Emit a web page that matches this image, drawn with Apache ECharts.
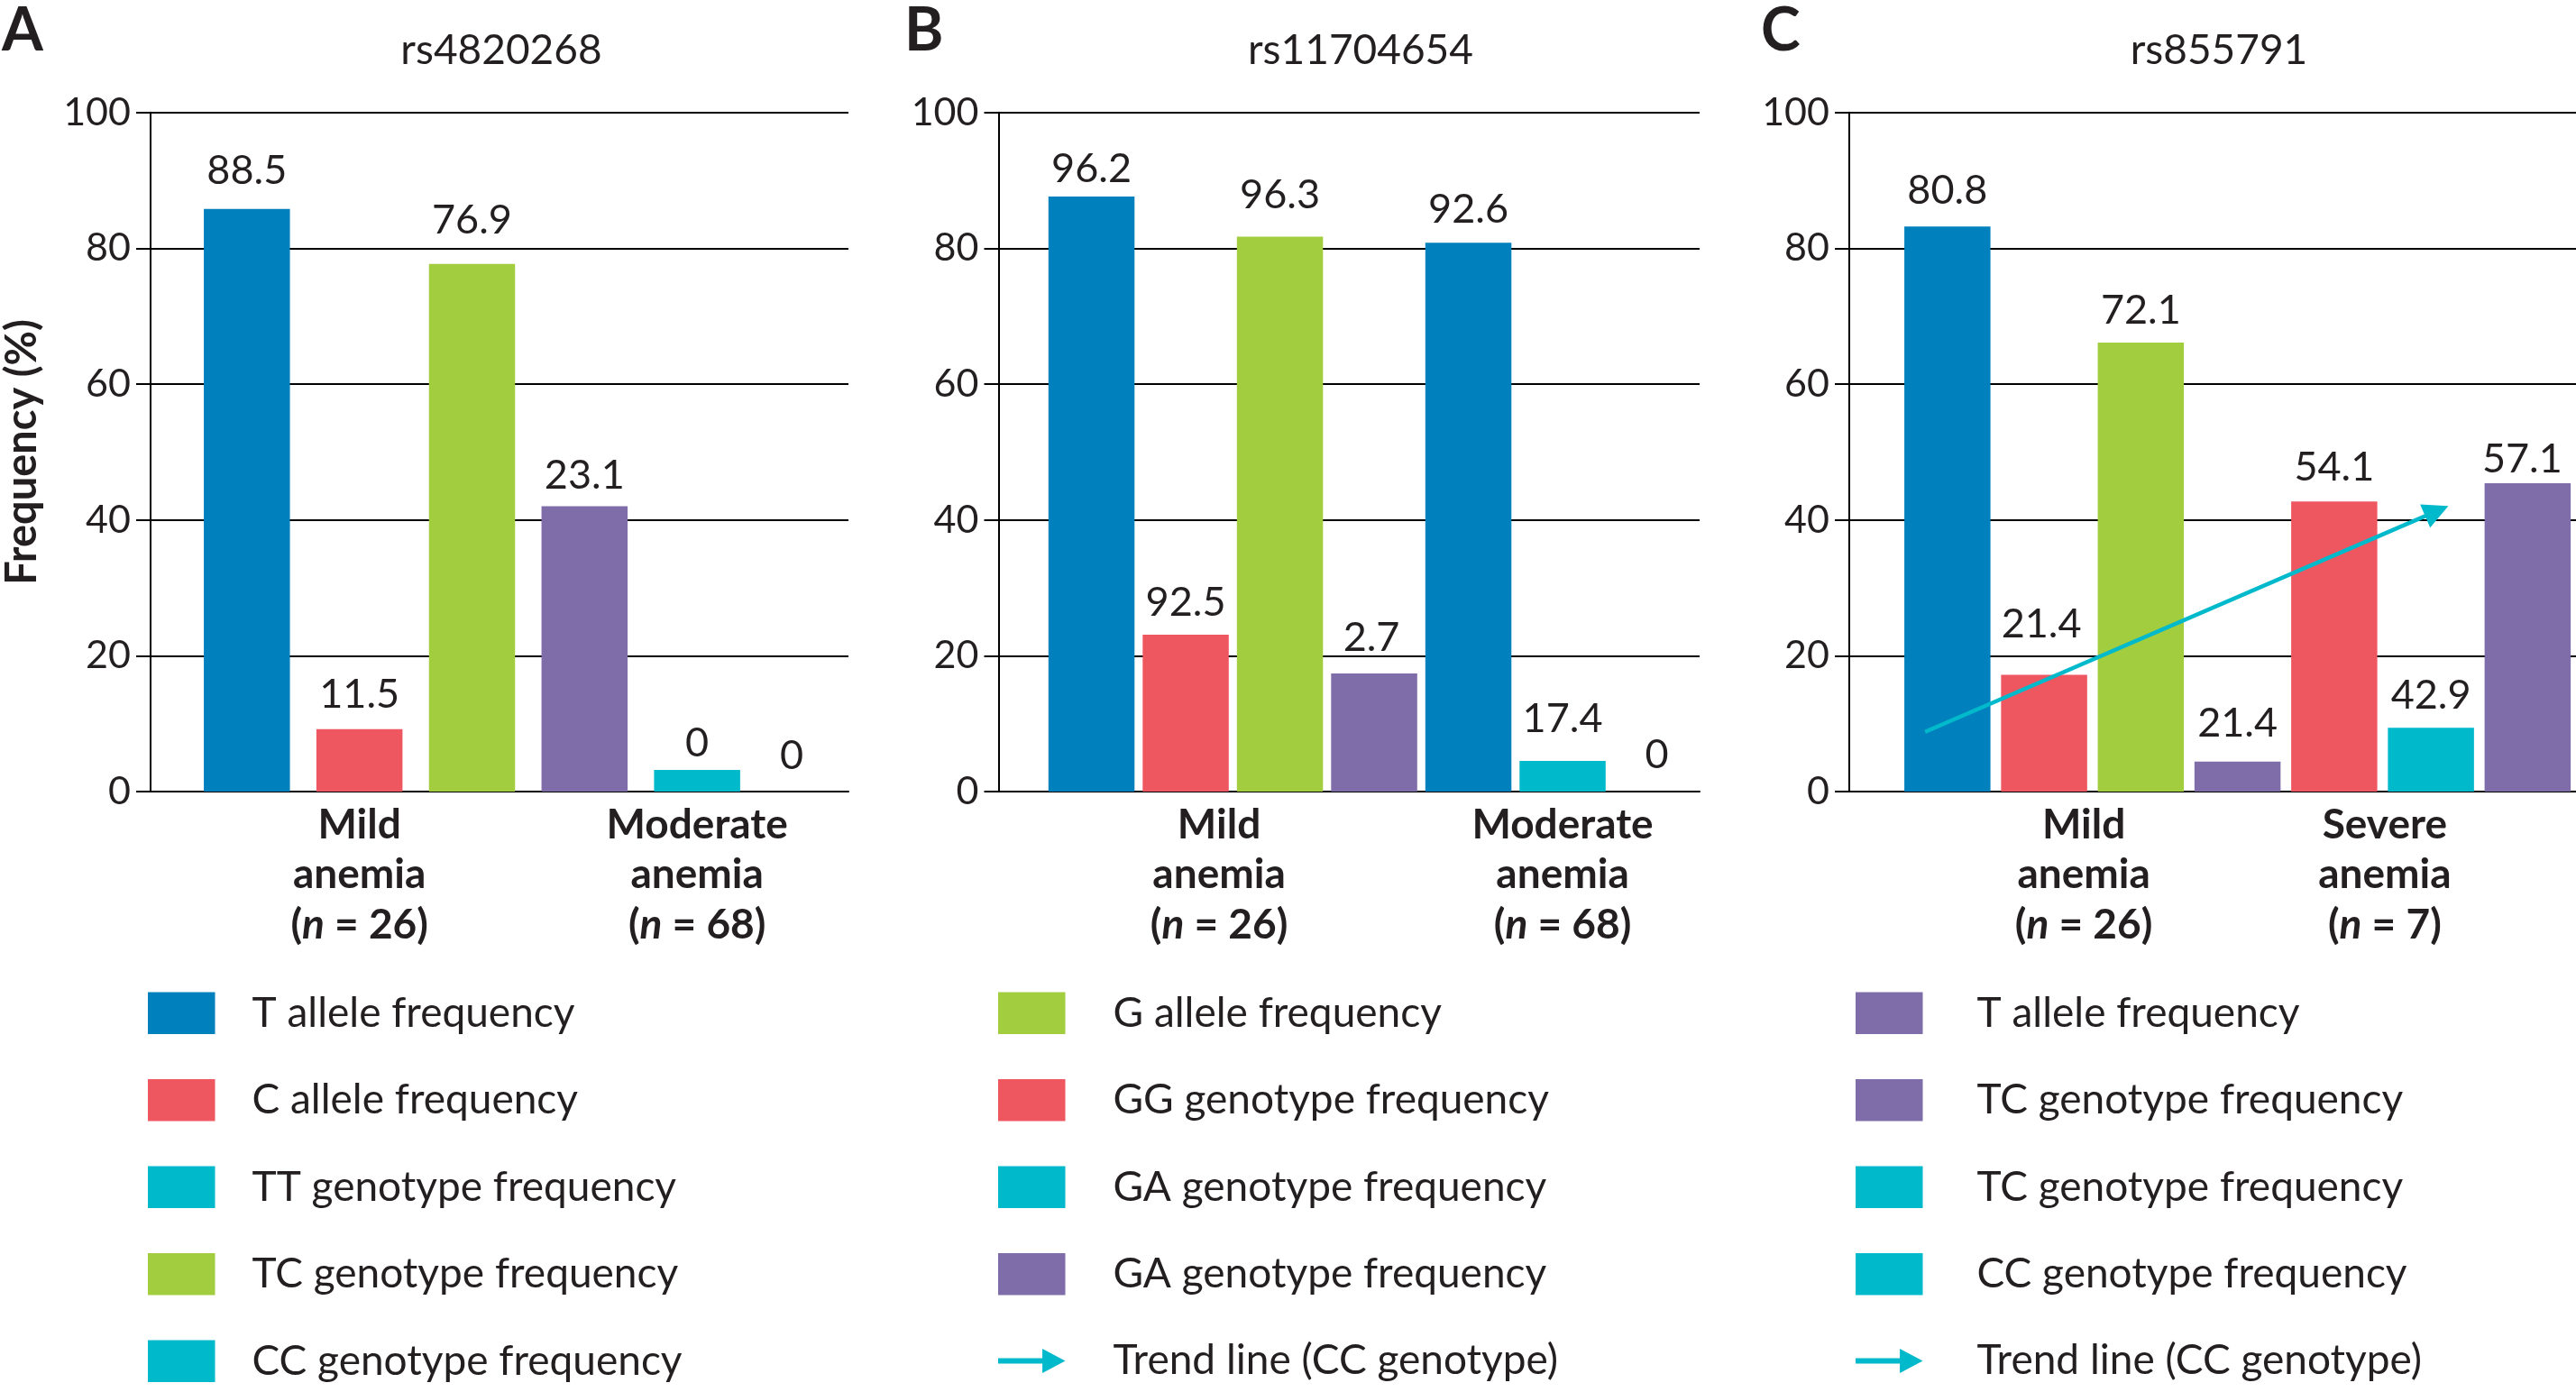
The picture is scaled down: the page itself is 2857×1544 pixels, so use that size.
<!DOCTYPE html>
<html>
<head>
<meta charset="utf-8">
<title>Anemia genotype frequencies</title>
<script src="https://cdn.jsdelivr.net/npm/echarts@6/dist/echarts.min.js"></script>
<style>
  body { margin: 0; background: #fff; }
  #main { width: 2857px; height: 1544px; }
</style>
</head>
<body>
<div id="main"></div>
<script>
// snp titles + panel letters
var snps = ['rs4820268', 'rs11704654', 'rs855791'];
var letters = ['A', 'B', 'C'];

// bar heights as drawn (%), and the numbers printed above them
var heightsA = [85.8, 9.2, 77.7, 42.0, 3.2, 0];
var labelsA = ['88.5', '11.5', '76.9', '23.1', '0', '0'];
var heightsB = [87.6, 23.1, 81.7, 17.4, 80.8, 4.5, 0];
var labelsB = ['96.2', '92.5', '96.3', '2.7', '92.6', '17.4', '0'];
var heightsC = [83.2, 17.2, 66.1, 4.4, 42.7, 9.4, 45.4];
var labelsC = ['80.8', '21.4', '72.1', '21.4', '54.1', '42.9', '57.1'];

// group labels under the bars ('' = no label)
var groupsA = ['', 'Mild anemia (n = 26)', '', '', 'Moderate anemia (n = 68)', ''];
var groupsB = ['', 'Mild anemia (n = 26)', '', '', '', 'Moderate anemia (n = 68)', ''];
var groupsC = ['', 'Mild anemia (n = 26)', '', '', 'Severe anemia (n = 7)', '', ''];

// legends
var legendA = ['T allele frequency', 'C allele frequency', 'TT genotype frequency', 'TC genotype frequency', 'CC genotype frequency'];
var legendB = ['G allele frequency', 'GG genotype frequency', 'GA genotype frequency', 'GA genotype frequency', 'Trend line (CC genotype)'];
var legendC = ['T allele frequency', 'TC genotype frequency', 'TC genotype frequency', 'CC genotype frequency', 'Trend line (CC genotype)'];

// trend line of panel C, [slot position, %]
var trendStart = [0.27, 8.8];
var trendEnd = [5.56, 41.3];

var yTicks = [0, 20, 40, 60, 80, 100];

var pal = { blue: '#0080bd', red: '#ef5760', green: '#a2cd3f', purple: '#7f6daa', cyan: '#00b9cb' };
var INK = '#231f20';
var FONT = 'Lato';

var panels = [
    { heights: heightsA, labels: labelsA, groups: groupsA, legend: legendA,
      colors: ['blue', 'red', 'green', 'purple', 'cyan', 'cyan'],
      legendColors: ['blue', 'red', 'cyan', 'green', 'cyan'],
      lift: [8, 4, 14, 0, -5, 5], nudge: [0, 0, 0, 0, 0, -20],
      axis: 163.5, width: 777.5, barLeft: 211.4, barSpan: 749, title: 556, letter: 2,
      legendLeft: 164, textGap: 36, shift: [0, 0, 0, 0, 0, 0] },
    { heights: heightsB, labels: labelsB, groups: groupsB, legend: legendB,
      colors: ['blue', 'red', 'green', 'purple', 'blue', 'cyan', 'cyan'],
      legendColors: ['green', 'red', 'cyan', 'purple', 'arrow'],
      lift: [-4, 1, 12, 5, 2, 12, 6], nudge: [0, 0, 0, -3, 0, 0, 0],
      axis: 1107.5, width: 777.5, barLeft: 1158.3, barSpan: 731.5, title: 1509, letter: 1003,
      legendLeft: 1107, textGap: 48, shift: [0, 37, 0, 0, 0, 0, 0] },
    { heights: heightsC, labels: labelsC, groups: groupsC, legend: legendC,
      colors: ['blue', 'red', 'green', 'purple', 'red', 'cyan', 'purple'],
      legendColors: ['purple', 'purple', 'cyan', 'cyan', 'arrow'],
      lift: [5, 21, 1, 8, 3, 1, -8], nudge: [0, -3, 0, 0, 0, 0, -6],
      axis: 2051, width: 806, barLeft: 2106.2, barSpan: 752.6, title: 2461, letter: 1953,
      legendLeft: 2058, textGap: 55, shift: [0, 44, 0, 0, 56, 0, 0] }
];

var TOP = 124.7, H = 753.3;
// legend arrow: shaft + solid head
var ARROW = 'path://M0,12 L56,12 L56,0 L85,15.5 L56,31 L56,19 L0,19 Z';
var line = { color: '#000', width: 2 };

// "Mild anemia (n = 26)" -> three bold lines with italic n
function groupText(s) {
    if (!s) return '';
    var m = s.match(/^(\S+) (\S+) \(n = (\d+)\)$/);
    return '{b|' + m[1] + '}\n{b|' + m[2] + '}\n{b|(}{i|n}{b| = ' + m[3] + ')}';
}

var option = {
    animation: false,
    backgroundColor: '#fff',
    textStyle: { fontFamily: FONT, color: INK },
    title: [], grid: [], xAxis: [], yAxis: [], legend: [], series: []
};

panels.forEach(function (p, i) {
    var frameGrid = option.grid.length;
    option.grid.push({ left: p.axis, top: TOP, width: p.width, height: H });
    option.grid.push({ left: p.barLeft, top: TOP, width: p.barSpan, height: H });
    var barGrid = frameGrid + 1;

    // frame: y axis with ticks + grid lines, bottom axis line
    var fx = option.xAxis.length;
    option.xAxis.push({ type: 'value', gridIndex: frameGrid, min: 0, max: 1,
        axisLine: { show: true, lineStyle: line }, axisTick: { show: false },
        axisLabel: { show: false }, splitLine: { show: false } });
    var fy = option.yAxis.length;
    option.yAxis.push({ type: 'value', gridIndex: frameGrid, min: yTicks[0], max: yTicks[yTicks.length - 1],
        interval: yTicks[1] - yTicks[0],
        name: i === 0 ? 'Frequency (%)' : '', nameLocation: 'middle', nameGap: 119, nameRotate: 90,
        nameTextStyle: { fontSize: 47, fontWeight: 'bold', color: INK, fontFamily: FONT },
        axisLine: { show: true, lineStyle: line },
        axisTick: { show: true, length: 16, lineStyle: line },
        axisLabel: { fontSize: 43, margin: 22, color: INK, fontFamily: FONT },
        splitLine: { show: true, lineStyle: line } });

    // bars: one category slot per bar
    var ids = p.heights.map(function (v, k) { return letters[i] + k; });
    var bx = option.xAxis.length;
    option.xAxis.push({ type: 'category', gridIndex: barGrid,
        data: ids.map(function (id, k) {
            return { value: id, textStyle: { padding: [0, 0, 0, 2 * p.shift[k]] } };
        }),
        axisLine: { show: false }, axisTick: { show: false }, splitLine: { show: false },
        axisLabel: { interval: 0, margin: 9,
            formatter: function (v, k) { return groupText(p.groups[k]); },
            rich: {
                b: { fontSize: 46, fontWeight: 'bold', lineHeight: 55.5, color: INK, fontFamily: FONT },
                i: { fontSize: 46, fontWeight: 'bold', fontStyle: 'italic', lineHeight: 55.5, color: INK, fontFamily: FONT }
            } } });
    var by = option.yAxis.length;
    option.yAxis.push({ type: 'value', gridIndex: barGrid, min: 0, max: 100, show: false });

    option.series.push({ type: 'bar', name: 'bars' + letters[i], xAxisIndex: bx, yAxisIndex: by,
        barWidth: 95.5, silent: true,
        data: p.heights.map(function (v, k) {
            return { value: v, itemStyle: { color: pal[p.colors[k]] },
                     label: { offset: [p.nudge[k], -p.lift[k]] } };
        }),
        label: { show: true, position: 'top', distance: 12, fontSize: 45, color: INK, fontFamily: FONT,
            formatter: function (q) { return p.labels[q.dataIndex]; } } });

    // legend entries (empty series just to carry the names)
    var items = p.legend.map(function (name, k) {
        var key = name + '#' + letters[i] + k;
        var c = p.legendColors[k];
        option.series.push({ type: 'scatter', name: key, xAxisIndex: fx, yAxisIndex: fy, data: [],
            itemStyle: { opacity: 1 } });
        return { name: key, icon: c === 'arrow' ? ARROW : 'rect',
                 itemStyle: { color: c === 'arrow' ? pal.cyan : pal[c], opacity: 1, borderWidth: 0 } };
    });
    option.legend.push({ orient: 'vertical', left: p.legendLeft, top: 1100.5, padding: 0,
        itemWidth: 74.5, itemHeight: 46.5, itemGap: 50, selectedMode: false,
        textStyle: { fontSize: 46, color: INK, fontFamily: FONT, padding: [0, 0, 26, p.textGap] },
        formatter: function (n) { return n.split('#')[0]; },
        data: items });

    // trend arrow in panel C
    if (i === 2) {
        var tx = option.xAxis.length;
        option.xAxis.push({ type: 'value', gridIndex: barGrid, min: 0, max: ids.length, show: false });
        option.series.push({ type: 'lines', name: 'trendC',
            coordinateSystem: 'cartesian2d', xAxisIndex: tx, yAxisIndex: by,
            symbol: ['none', 'triangle'], symbolSize: 28, silent: true, z: 5,
            lineStyle: { color: pal.cyan, width: 4.5, opacity: 1, curveness: 0 },
            data: [{ coords: [trendStart, trendEnd] }] });
    }

    option.title.push({ text: letters[i], left: p.letter, top: 2, padding: 0,
        textStyle: { fontSize: 66, fontWeight: 'bold', color: INK, fontFamily: FONT } });
    option.title.push({ text: snps[i], left: p.title, top: 33, padding: 0, textAlign: 'center',
        textStyle: { fontSize: 46, fontWeight: 'normal', color: INK, fontFamily: FONT } });
});

var chart = echarts.init(document.getElementById('main'));
chart.setOption(option);
</script>
</body>
</html>
